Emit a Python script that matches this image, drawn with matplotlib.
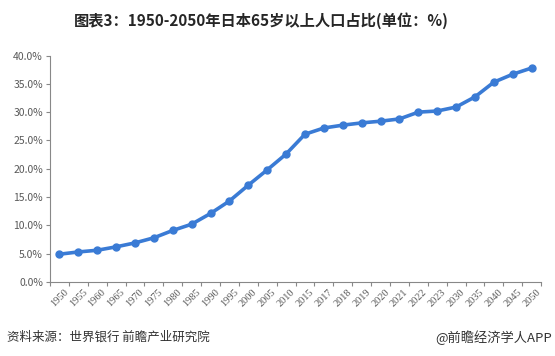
import matplotlib
matplotlib.use("Agg")
import matplotlib.pyplot as plt
from matplotlib.ticker import FuncFormatter, FixedLocator
import numpy as np

plt.rcParams['font.family'] = ['Noto Sans CJK SC', 'DejaVu Sans']

years = ["1950", "1955", "1960", "1965", "1970", "1975", "1980", "1985", "1990",
         "1995", "2000", "2005", "2010", "2015", "2017", "2018", "2019", "2020",
         "2021", "2022", "2023", "2030", "2035", "2040", "2045", "2050"]
share = [4.9, 5.3, 5.6, 6.2, 6.9, 7.8, 9.1, 10.2, 12.1, 14.3, 17.1, 19.8, 22.6,
         26.1, 27.2, 27.7, 28.1, 28.4, 28.8, 30.0, 30.2, 30.9, 32.7, 35.3, 36.7, 37.8]
yticks = [0, 5, 10, 15, 20, 25, 30, 35, 40]

title = "图表3：1950-2050年日本65岁以上人口占比(单位：%)"
source = "资料来源：世界银行 前瞻产业研究院"
credit = "@前瞻经济学人APP"

fig = plt.figure(figsize=(5.55, 3.56), dpi=100)
ax = fig.add_axes([0.090, 0.208, 0.885, 0.636])

x = np.arange(len(years))
ax.plot(x, share, color='#3a7bd5', lw=2.6, marker='o', ms=5, zorder=3)

ax.set_xlim(-0.5, len(years) - 0.5)
ax.set_ylim(0, 40)
ax.set_yticks(yticks)
ax.yaxis.set_major_formatter(FuncFormatter(lambda v, p: f"{v:.1f}%"))

ax.set_xticks(x)
ax.set_xticklabels(years, rotation=45, ha='center', fontsize=7.5, color='#595959',
                   family=['Liberation Serif', 'DejaVu Serif'])
ax.xaxis.set_minor_locator(FixedLocator(np.arange(-0.5, len(years), 1.0)))
ax.tick_params(axis='x', which='major', length=0, pad=4)
ax.tick_params(axis='x', which='minor', length=3, color='#888888', width=0.8)
ax.tick_params(axis='y', length=3, color='#888888', width=0.8, labelsize=7.5,
               labelcolor='#595959', pad=2)

for s in ['top', 'right']:
    ax.spines[s].set_visible(False)
for s in ['left', 'bottom']:
    ax.spines[s].set_color('#888888')
    ax.spines[s].set_linewidth(0.8)

fig.text(0.47, 0.943, title, ha='center', va='center', fontsize=11,
         fontweight='bold', color='#262626')
fig.text(0.012, 0.052, source, ha='left', va='center', fontsize=9, color='#333333')
fig.text(0.995, 0.052, credit, ha='right', va='center', fontsize=9.5, color='#333333')

fig.savefig("out.png", dpi=100)
